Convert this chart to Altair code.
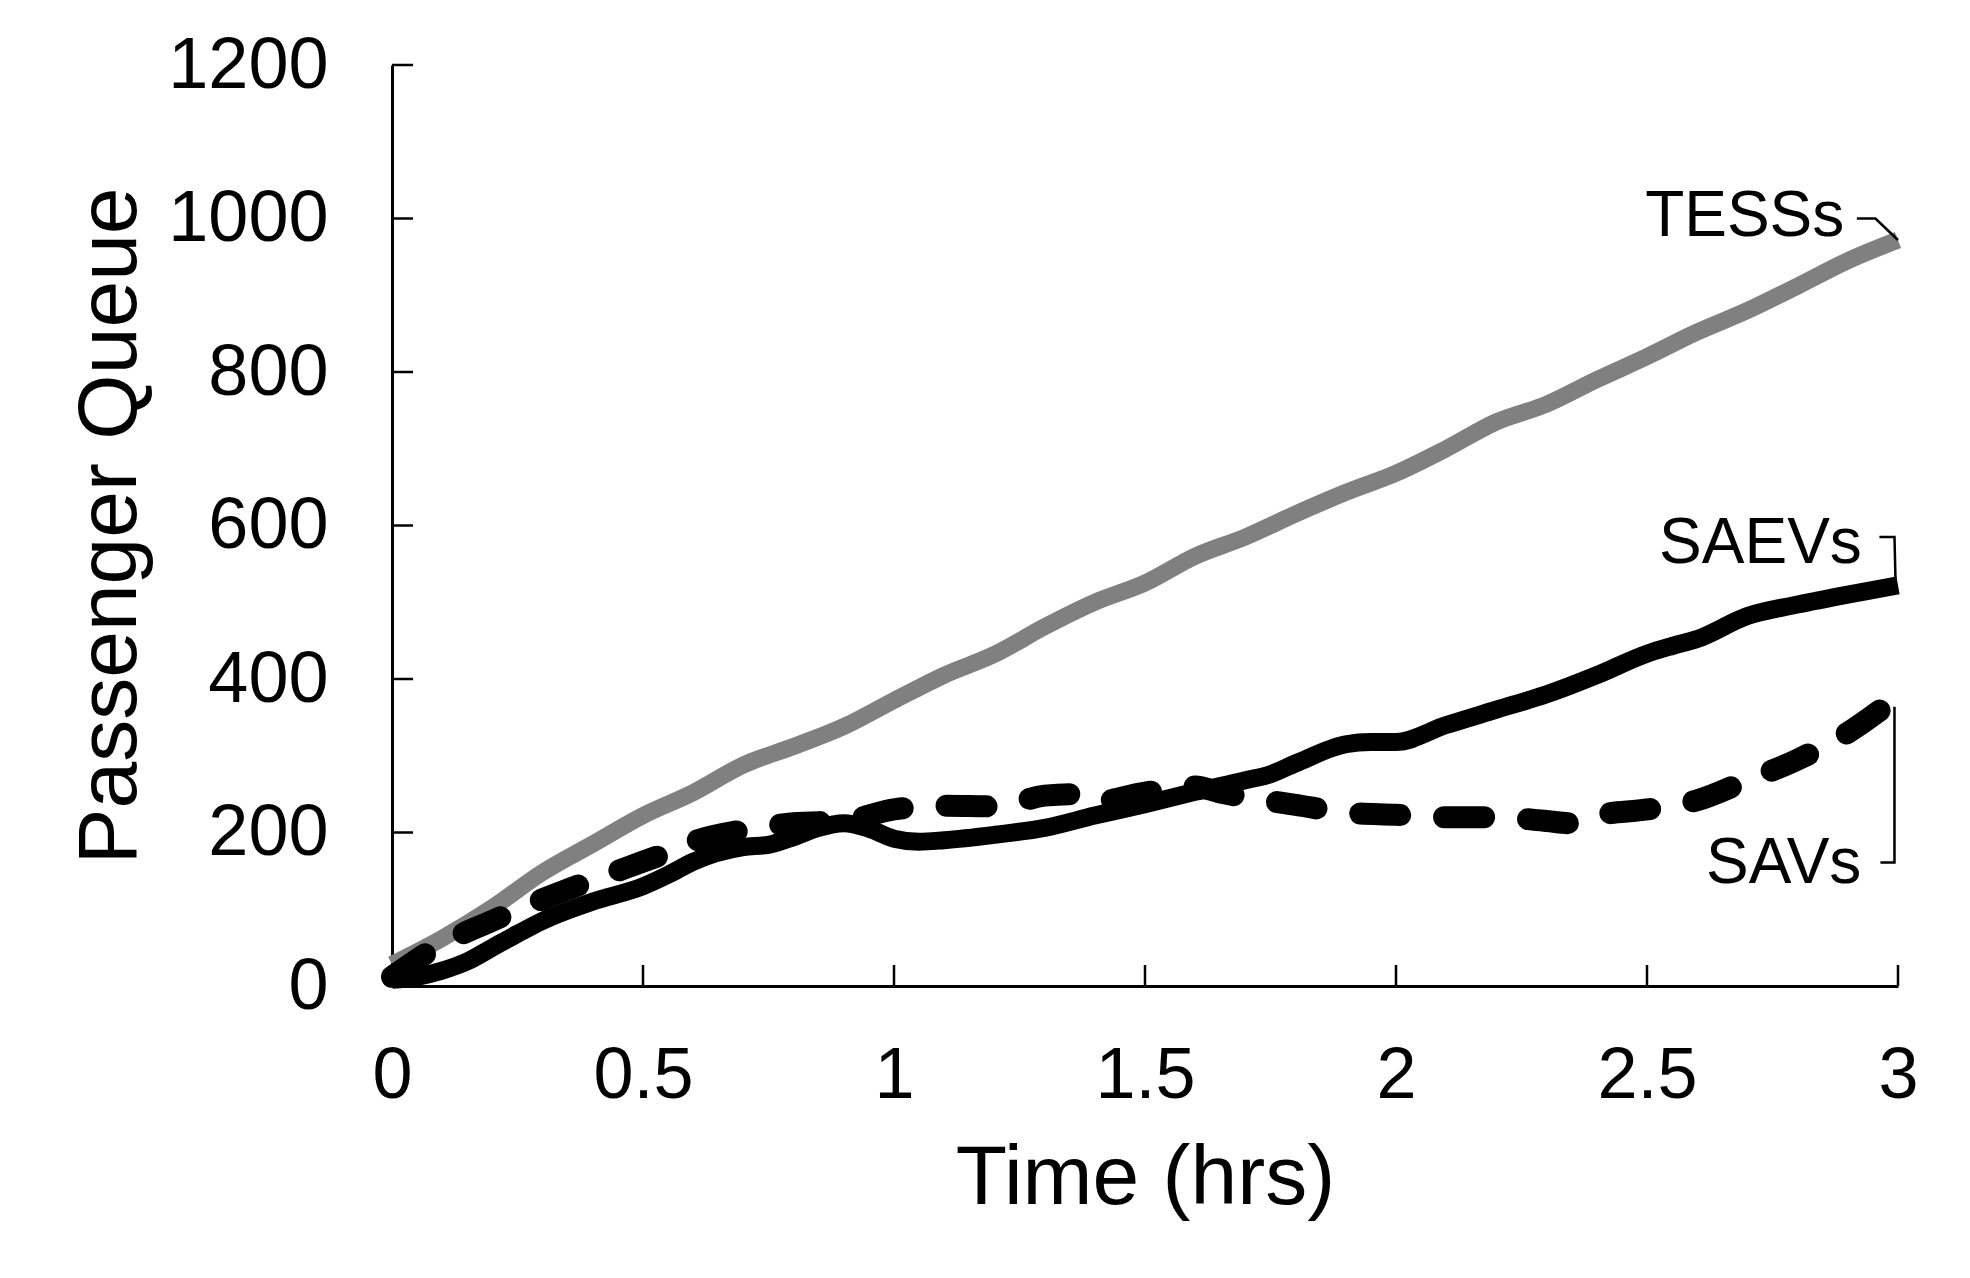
import altair as alt
import pandas as pd

# ---- data ----
tess_t = [0, 0.1, 0.2, 0.3, 0.4, 0.5, 0.6, 0.7, 0.8, 0.9, 1.0, 1.1, 1.2, 1.3, 1.4, 1.5,
          1.6, 1.7, 1.8, 1.9, 2.0, 2.1, 2.2, 2.3, 2.4, 2.5, 2.6, 2.7, 2.8, 2.9, 3.0]
tess_v = [28, 62, 102, 148, 185, 222, 252, 288, 312, 338, 372, 405, 432, 468, 500, 525,
          560, 585, 615, 643, 668, 700, 735, 758, 790, 820, 852, 880, 912, 945, 972]

saev_t = [0, 0.05, 0.1, 0.15, 0.2, 0.25, 0.3, 0.4, 0.5, 0.55, 0.6, 0.7, 0.75, 0.8, 0.85,
          0.9, 0.95, 1.0, 1.05, 1.1, 1.2, 1.3, 1.4, 1.5, 1.6, 1.7, 1.75, 1.8, 1.9, 1.95,
          2.0, 2.1, 2.2, 2.3, 2.4, 2.5, 2.55, 2.6, 2.7, 2.8, 2.9, 3.0]
saev_v = [8, 12, 20, 32, 50, 68, 85, 110, 130, 145, 162, 181, 184, 194, 206,
          212, 205, 192, 188, 190, 197, 206, 222, 237, 253, 268, 276, 290, 315, 318,
          318, 340, 360, 380, 405, 433, 443, 452, 482, 497, 510, 522]

sav_t = [0, 0.1, 0.2, 0.3, 0.4, 0.5, 0.55, 0.6, 0.7, 0.8, 0.9, 1.0, 1.1, 1.2, 1.3, 1.35,
         1.4, 1.5, 1.6, 1.65, 1.7, 1.8, 1.9, 2.0, 2.1, 2.2, 2.3, 2.35, 2.4, 2.5, 2.6,
         2.7, 2.8, 2.9, 2.97]
sav_v = [12, 55, 85, 113, 138, 162, 174, 188, 203, 212, 215, 230, 235, 234, 248, 250,
         240, 252, 260, 252, 246, 236, 226, 223, 220, 220, 215, 212, 222, 230, 242,
         268, 295, 330, 362]

x_ticks = [0.5, 1.0, 1.5, 2.0, 2.5, 3.0]
y_ticks = [200, 400, 600, 800, 1000, 1200]

label_text = ["TESSs", "SAEVs", "SAVs"]
label_x = [2.893, 2.928, 2.927]
label_y = [977, 551, 134]

# leader lines (segment id, x, y) in data units
lead_seg = [0, 0, 0, 1, 1, 1, 2, 2, 2]
lead_ord = [0, 1, 2, 0, 1, 2, 0, 1, 2]
lead_x = [2.918, 2.955, 3.0, 2.963, 2.993, 2.995, 2.965, 2.993, 2.993]
lead_y = [1000, 1000, 972, 585, 585, 530, 161, 161, 364]

# ---- tables ----
tess = pd.DataFrame({"t": tess_t, "v": tess_v})
saev = pd.DataFrame({"t": saev_t, "v": saev_v})
sav = pd.DataFrame({"t": sav_t, "v": sav_v})
xt = pd.DataFrame({"t": x_ticks})
yt = pd.DataFrame({"v": y_ticks})
labels = pd.DataFrame({"text": label_text, "t": label_x, "v": label_y})
leads = pd.DataFrame({"seg": lead_seg, "ord": lead_ord, "t": lead_x, "v": lead_y})

W, H = 1506, 921
FONT = "Liberation Sans"

xscale = alt.Scale(domain=[0, 3], nice=False, zero=False)
yscale = alt.Scale(domain=[0, 1200], nice=False)

xaxis = alt.Axis(values=[0, 0.5, 1, 1.5, 2, 2.5, 3], labelExpr="datum.value",
                 title="Time (hrs)", ticks=False, grid=False,
                 domainColor="black", domainWidth=3,
                 labelFontSize=72, labelFont=FONT, labelColor="black",
                 labelPadding=54, labelFlush=False, labelOverlap=False, labelLimit=400,
                 titleFontSize=84, titleFont=FONT, titleColor="black",
                 titleFontWeight="normal", titleBaseline="alphabetic",
                 titleY=217, titleX=W / 2, titleAlign="center")
yaxis = alt.Axis(values=[0, 200, 400, 600, 800, 1000, 1200], format="d",
                 title="Passenger Queue", ticks=False, grid=False,
                 domainColor="black", domainWidth=3,
                 labelFontSize=72, labelFont=FONT, labelColor="black",
                 labelPadding=64, labelFlush=False, labelOverlap=False, labelLimit=400,
                 titleFontSize=84, titleFont=FONT, titleColor="black",
                 titleFontWeight="normal", titleBaseline="alphabetic",
                 titleAngle=270, titleX=-257, titleY=H / 2, titleAlign="center")

X = alt.X("t:Q", scale=xscale, axis=xaxis)
Y = alt.Y("v:Q", scale=yscale, axis=yaxis)

l_tess = alt.Chart(tess).mark_line(color="#808080", strokeWidth=17,
                                   interpolate="monotone", strokeCap="butt").encode(x=X, y=Y)
l_saev = alt.Chart(saev).mark_line(color="black", strokeWidth=18,
                                   interpolate="monotone", strokeCap="butt").encode(x=X, y=Y)
l_sav = alt.Chart(sav).mark_line(color="black", strokeWidth=22, strokeCap="round",
                                 strokeDash=[40, 44], interpolate="monotone").encode(x=X, y=Y)

xtick = alt.Chart(xt).mark_rule(color="black", strokeWidth=2.5).encode(
    x=X, y=alt.value(H), y2=alt.value(H - 21))
ytick = alt.Chart(yt).mark_rule(color="black", strokeWidth=2.5).encode(
    y=Y, x=alt.value(0), x2=alt.value(21))

txt = alt.Chart(labels).mark_text(align="right", baseline="alphabetic", fontSize=64,
                                  font=FONT, color="black").encode(x=X, y=Y, text="text:N")
lead = alt.Chart(leads).mark_line(color="black", strokeWidth=2.5).encode(
    x=X, y=Y, detail="seg:N", order="ord:Q")

chart = alt.layer(l_tess, l_saev, l_sav, xtick, ytick, lead, txt).properties(
    width=W, height=H,
    background="white",
    autosize=alt.AutoSizeParams(type="none"),
    padding={"left": 384, "top": 57, "right": 60, "bottom": 270},
).configure_view(stroke=None)

chart.save("out.html", embed_options={"renderer": "svg", "actions": False})
